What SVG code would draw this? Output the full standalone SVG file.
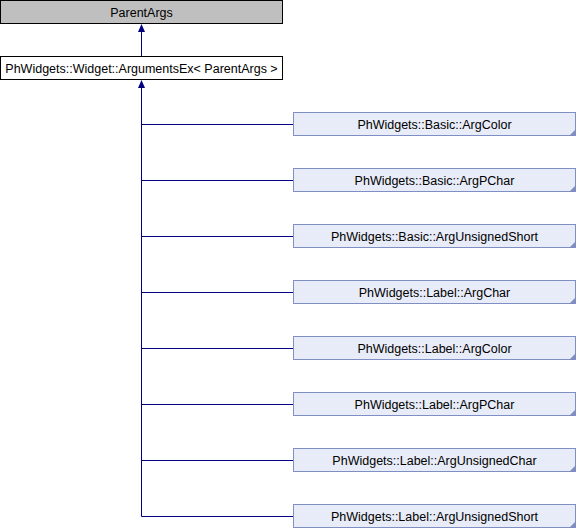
<svg xmlns="http://www.w3.org/2000/svg" width="576" height="528" viewBox="0 0 576 528">
<style>
.t{font-family:"Liberation Sans",Arial,sans-serif;font-size:12.5px;fill:#000;text-anchor:middle}
.top{fill:#bfbfbf;stroke:#000;stroke-width:1}
.mid{fill:#fff;stroke:#000;stroke-width:1}
.n{fill:#e8ecf8;stroke:#7f8fc4;stroke-width:1}
.c{fill:#7f8fc4}
.e{stroke:#000080;stroke-width:1;fill:none}
.a{fill:#000080}
</style>
<rect width="576" height="528" fill="#fff"/>
<g id="connectors">
<path class="e" d="M141.5,30 V56 M141.5,86 V516.5 M141.5,124.5 H293 M141.5,180.5 H293 M141.5,236.5 H293 M141.5,292.5 H293 M141.5,348.5 H293 M141.5,404.5 H293 M141.5,460.5 H293 M141.5,516.5 H293"/>
<polygon class="a" points="141.5,24 145,32 138,32"/>
<polygon class="a" points="141.5,80 145,88 138,88"/>
</g>
<g id="ParentArgs"><rect class="top" x="0.5" y="0.5" width="282" height="23"/><text class="t" x="141.5" y="16.5">ParentArgs</text></g>
<g id="ArgumentsEx"><rect class="mid" x="0.5" y="56.5" width="282" height="23"/><text class="t" x="141.5" y="72.5">PhWidgets::Widget::ArgumentsEx&lt; ParentArgs &gt;</text></g>
<g id="BasicArgColor"><rect class="n" x="293.5" y="112.5" width="282" height="23"/><polygon class="c" points="576,129 576,136 569,136"/><text class="t" x="434.5" y="128.5">PhWidgets::Basic::ArgColor</text></g>
<g id="BasicArgPChar"><rect class="n" x="293.5" y="168.5" width="282" height="23"/><polygon class="c" points="576,185 576,192 569,192"/><text class="t" x="434.5" y="184.5">PhWidgets::Basic::ArgPChar</text></g>
<g id="BasicArgUnsignedShort"><rect class="n" x="293.5" y="224.5" width="282" height="23"/><polygon class="c" points="576,241 576,248 569,248"/><text class="t" x="434.5" y="240.5">PhWidgets::Basic::ArgUnsignedShort</text></g>
<g id="LabelArgChar"><rect class="n" x="293.5" y="280.5" width="282" height="23"/><polygon class="c" points="576,297 576,304 569,304"/><text class="t" x="434.5" y="296.5">PhWidgets::Label::ArgChar</text></g>
<g id="LabelArgColor"><rect class="n" x="293.5" y="336.5" width="282" height="23"/><polygon class="c" points="576,353 576,360 569,360"/><text class="t" x="434.5" y="352.5">PhWidgets::Label::ArgColor</text></g>
<g id="LabelArgPChar"><rect class="n" x="293.5" y="392.5" width="282" height="23"/><polygon class="c" points="576,409 576,416 569,416"/><text class="t" x="434.5" y="408.5">PhWidgets::Label::ArgPChar</text></g>
<g id="LabelArgUnsignedChar"><rect class="n" x="293.5" y="448.5" width="282" height="23"/><polygon class="c" points="576,465 576,472 569,472"/><text class="t" x="434.5" y="464.5">PhWidgets::Label::ArgUnsignedChar</text></g>
<g id="LabelArgUnsignedShort"><rect class="n" x="293.5" y="504.5" width="282" height="23"/><polygon class="c" points="576,521 576,528 569,528"/><text class="t" x="434.5" y="520.5">PhWidgets::Label::ArgUnsignedShort</text></g>
</svg>
